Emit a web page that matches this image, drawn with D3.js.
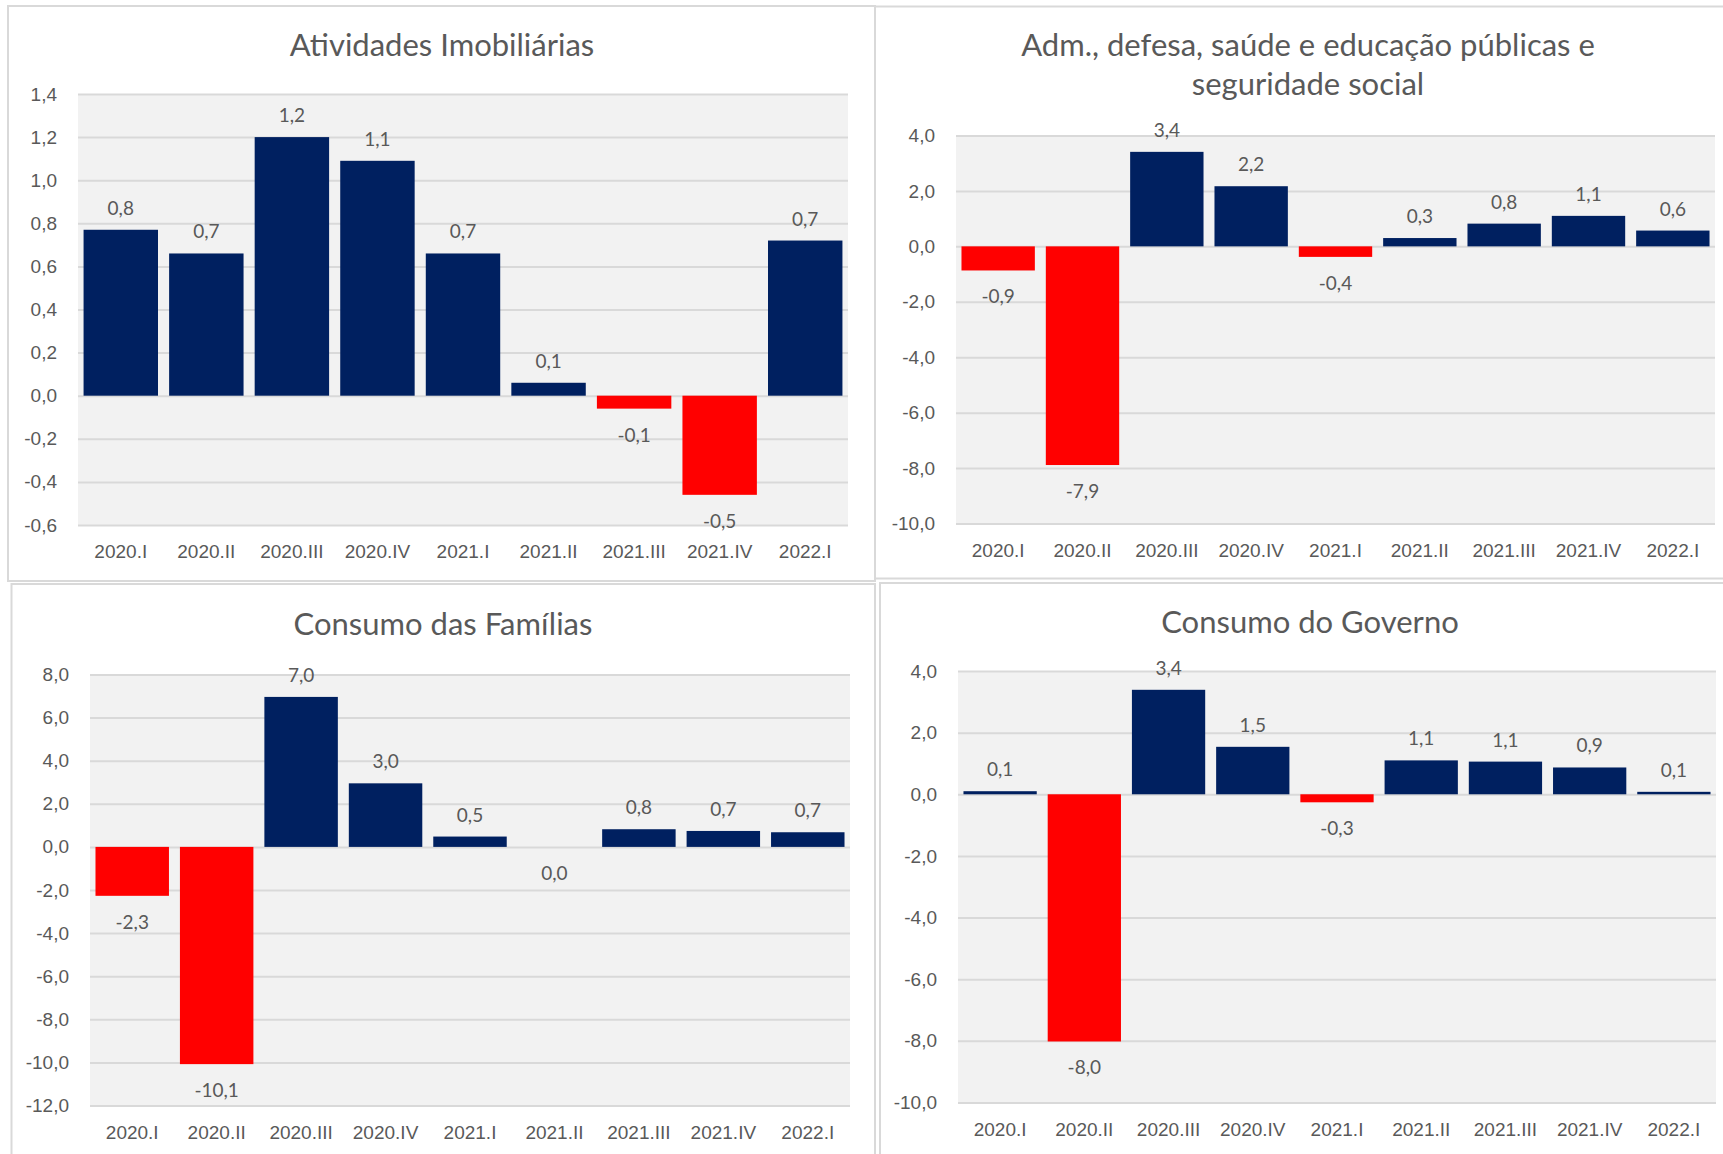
<!DOCTYPE html>
<html>
<head>
<meta charset="utf-8">
<script src="https://cdn.jsdelivr.net/npm/d3@7"></script>
<style>
  body { margin: 0; background: #fff; }
  svg { display: block; }
</style>
</head>
<body>
<svg id="chart"></svg>
<script>
// quarters shown on every panel
const quarters = ["2020.I", "2020.II", "2020.III", "2020.IV", "2021.I", "2021.II", "2021.III", "2021.IV", "2022.I"];

// values (% change)
const imobiliarias = [0.77, 0.66, 1.20, 1.09, 0.66, 0.06, -0.06, -0.46, 0.72];
const admPublica = [-0.87, -7.89, 3.41, 2.17, -0.38, 0.30, 0.82, 1.10, 0.57];
const consumoFamilias = [-2.27, -10.08, 6.96, 2.95, 0.48, 0.0, 0.82, 0.74, 0.68];
const consumoGoverno = [0.10, -8.02, 3.39, 1.54, -0.26, 1.10, 1.06, 0.87, 0.08];

// y tick values
const imobTicks = [-0.6, -0.4, -0.2, 0, 0.2, 0.4, 0.6, 0.8, 1.0, 1.2, 1.4];
const admTicks = [-10, -8, -6, -4, -2, 0, 2, 4];
const familiasTicks = [-12, -10, -8, -6, -4, -2, 0, 2, 4, 6, 8];
const governoTicks = [-10, -8, -6, -4, -2, 0, 2, 4];

const width = 1723, height = 1154;
const navy = "#002060", red = "#ff0000", textColor = "#595959";

const ptBR = d3.formatLocale({decimal: ",", thousands: ".", grouping: [3], currency: ["R$", ""], minus: "-"});
const fmt = ptBR.format(".1f");

const panels = [
    {title: ["Atividades Imobiliárias"], values: imobiliarias, ticks: imobTicks,
     frame: [8, 6, 875, 581], plot: [78, 94, 848, 525], titleX: 442, titleY: 56},
    {title: ["Adm., defesa, saúde e educação públicas e", "seguridade social"], values: admPublica, ticks: admTicks,
     frame: [875, 6.5, 1740, 578.5], plot: [956, 135.5, 1715, 523.5], titleX: 1308, titleY: 56},
    {title: ["Consumo das Famílias"], values: consumoFamilias, ticks: familiasTicks,
     frame: [11.5, 584, 875, 1170], plot: [90, 674.5, 850, 1105.5], titleX: 443, titleY: 635},
    {title: ["Consumo do Governo"], values: consumoGoverno, ticks: governoTicks,
     frame: [880, 583, 1740, 1170], plot: [958, 671, 1716, 1102.5], titleX: 1310, titleY: 633}
];

const svg = d3.select("#chart")
    .attr("width", width)
    .attr("height", height)
    .attr("font-family", "Lato, 'Open Sans', sans-serif");

svg.append("rect")
    .attr("width", width)
    .attr("height", height)
    .attr("fill", "#fff");

panels.forEach(function(p) {
    const g = svg.append("g");

    g.append("rect")
        .attr("x", p.frame[0])
        .attr("y", p.frame[1])
        .attr("width", p.frame[2] - p.frame[0])
        .attr("height", p.frame[3] - p.frame[1])
        .attr("fill", "#fff")
        .attr("stroke", "#d9d9d9")
        .attr("stroke-width", 2);

    const x = d3.scaleBand()
        .domain(quarters)
        .range([p.plot[0], p.plot[2]])
        .paddingInner(0.13)
        .paddingOuter(0.065);

    const y = d3.scaleLinear()
        .domain([d3.min(p.ticks), d3.max(p.ticks)])
        .range([p.plot[3], p.plot[1]]);

    // plot area
    g.append("rect")
        .attr("x", p.plot[0])
        .attr("y", p.plot[1])
        .attr("width", p.plot[2] - p.plot[0])
        .attr("height", p.plot[3] - p.plot[1])
        .attr("fill", "#f2f2f2");

    // gridlines + y labels
    const yAxis = g.append("g")
        .attr("transform", `translate(${p.plot[0]},0)`)
        .call(d3.axisLeft(y).tickValues(p.ticks).tickFormat(fmt)
            .tickSize(-(p.plot[2] - p.plot[0])).tickPadding(21));
    yAxis.select(".domain").remove();
    yAxis.selectAll("line").attr("stroke", "#d9d9d9").attr("stroke-width", 2);
    yAxis.selectAll("text")
        .attr("fill", textColor)
        .attr("font-size", 19);

    // x labels
    const xAxis = g.append("g")
        .attr("transform", `translate(0,${p.plot[3]})`)
        .call(d3.axisBottom(x).tickSize(0).tickPadding(20));
    xAxis.select(".domain").remove();
    xAxis.selectAll("text")
        .attr("fill", textColor)
        .attr("font-size", 19);

    // bars
    g.selectAll("rect.bar")
        .data(p.values)
        .join("rect")
          .attr("class", "bar")
          .attr("x", (d, i) => x(quarters[i]))
          .attr("width", x.bandwidth())
          .attr("y", d => y(Math.max(0, d)))
          .attr("height", d => Math.abs(y(d) - y(0)))
          .attr("fill", d => d >= 0 ? navy : red);

    // data labels
    g.selectAll("text.lbl")
        .data(p.values)
        .join("text")
          .attr("class", "lbl")
          .attr("x", (d, i) => x(quarters[i]) + x.bandwidth() / 2)
          .attr("y", d => d > 0 ? y(d) - 15 : y(d) + 33)
          .attr("text-anchor", "middle")
          .attr("fill", textColor)
          .attr("font-size", 19)
          .text(d => fmt(d));

    // title
    g.append("text")
        .attr("x", p.titleX)
        .attr("y", p.titleY)
        .attr("text-anchor", "middle")
        .attr("fill", textColor)
        .attr("font-size", 31)
        .selectAll("tspan")
        .data(p.title)
        .join("tspan")
          .attr("x", p.titleX)
          .attr("dy", (d, i) => i === 0 ? 0 : 39)
          .text(d => d);
});
</script>
</body>
</html>
